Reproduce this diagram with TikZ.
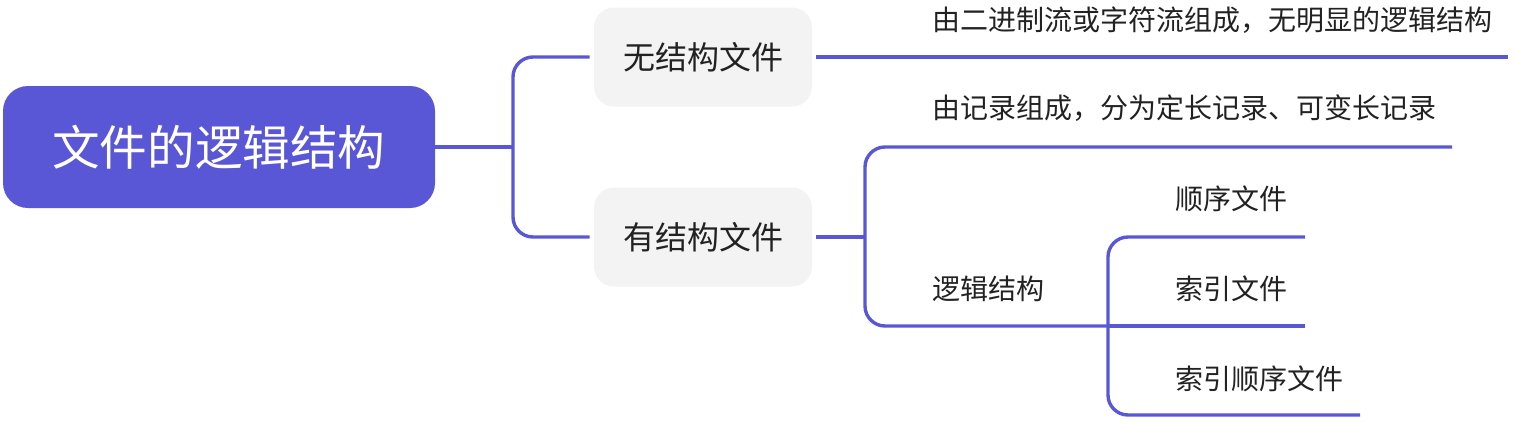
\documentclass[tikz,border=0pt]{standalone}
\usepackage{fontspec}
\newfontfamily\cjk{Noto Sans CJK SC}
\definecolor{main}{HTML}{5A57D6}
\definecolor{subbg}{HTML}{F3F3F3}
\definecolor{txt}{HTML}{222222}
\tikzset{
  conn/.style={draw=main, line width=1.7pt, rounded corners=10pt},
  rootbox/.style={fill=main, rounded corners=12.5pt, minimum width=216pt, minimum height=61pt, inner sep=0pt, text=white, font=\cjk\fontsize{23.8}{28}\selectfont},
  subbox/.style={fill=subbg, rounded corners=10pt, minimum width=109pt, minimum height=49.5pt, inner sep=0pt, text=txt, font=\cjk\fontsize{16}{20}\selectfont},
  leaf/.style={anchor=west, inner sep=0pt, text=txt, font=\cjk\fontsize{14}{18}\selectfont},
}
\begin{document}
\begin{tikzpicture}[x=0.5pt, y=-0.5pt]
\useasboundingbox (0,0) rectangle (1516,424);
\node[rootbox] (root) at (219,147) {文件的逻辑结构};
\node[subbox] (b1) at (703,57) {无结构文件};
\node[subbox] (b2) at (703,237) {有结构文件};
\node[leaf] (t1) at (932,20) {由二进制流或字符流组成，无明显的逻辑结构};
\node[leaf] (t2) at (932,108) {由记录组成，分为定长记录、可变长记录};
\node[leaf] (t3) at (932,289) {逻辑结构};
\node[leaf] (t4) at (1175,199) {顺序文件};
\node[leaf] (t5) at (1175,289) {索引文件};
\node[leaf] (t6) at (1175,379) {索引顺序文件};
\coordinate (j0) at (513,147);
\coordinate (j1) at (865,237);
\coordinate (j2) at (1108,326);
\coordinate (e1) at (1508,57);
\coordinate (e2) at (1452,147);
\coordinate (e4) at (1305,237);
\coordinate (e5) at (1305,326);
\coordinate (e6) at (1360,415);
\draw[conn] (root.east) -- (j0);
\draw[conn, shorten >=2pt] (j0) |- (b1.west);
\draw[conn, shorten >=2pt] (j0) |- (b2.west);
\draw[conn, shorten <=2pt] (b1.east) -- (e1);
\draw[conn, shorten <=2pt] (b2.east) -- (j1);
\draw[conn] (j1) |- (e2);
\draw[conn] (j1) |- (j2);
\draw[conn] (j2) -- (e5);
\draw[conn] (j2) |- (e4);
\draw[conn] (j2) |- (e6);
\end{tikzpicture}
\end{document}
